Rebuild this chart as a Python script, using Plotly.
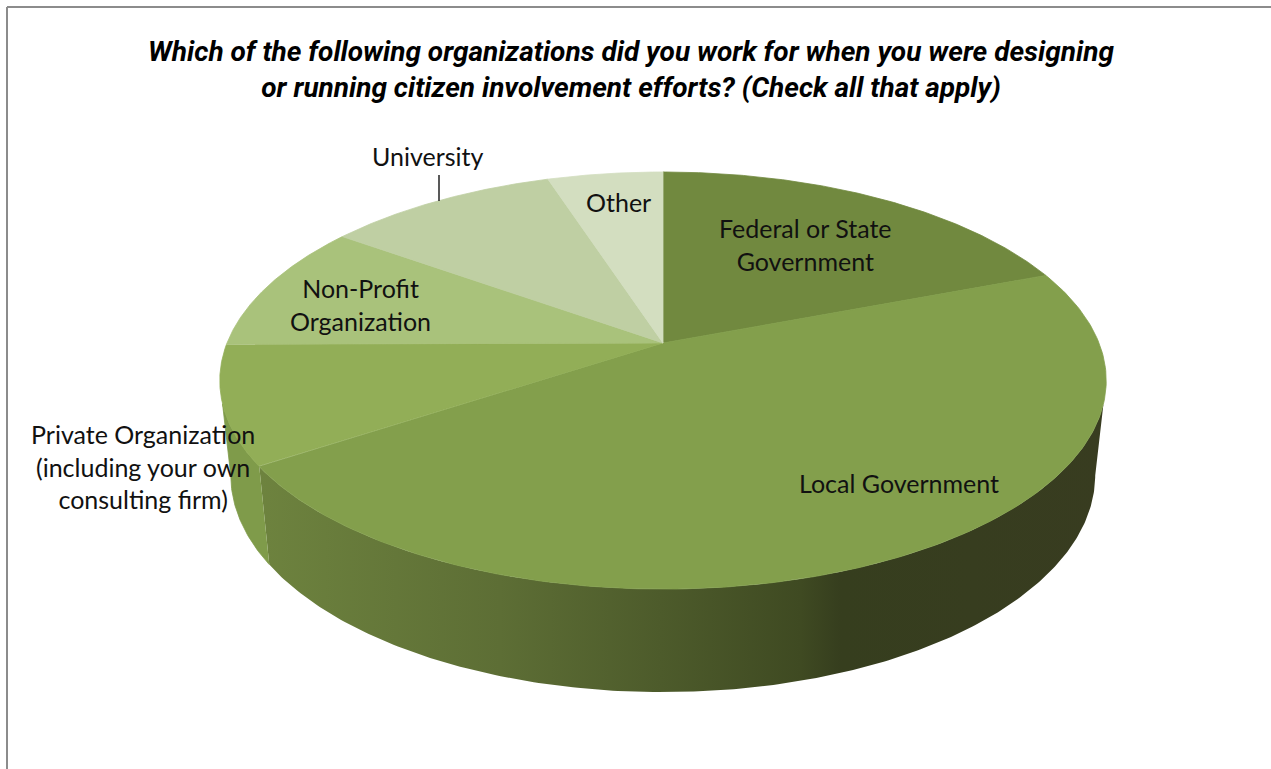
import numpy as np
import plotly.graph_objects as go

TITLE = ("Which of the following organizations did you work for when you were designing<br>"
         "or running citizen involvement efforts? (Check all that apply)")
categories = ["Federal or State Government", "Local Government",
              "Private Organization (including your own consulting firm)",
              "Non-Profit Organization", "University", "Other"]
values = [19.2, 46.5, 9.2, 10.0, 10.1, 5.0]
slice_colors = ["#71893f", "#839f4c", "#92ae57", "#a9c27b", "#bfcfa3", "#d3dec0"]
label_text = ["Federal or State<br>Government", "Local Government",
              "Private Organization<br>(including your own<br>consulting firm)",
              "Non-Profit<br>Organization", "University", "Other"]
label_x = [805, 899, 143, 360, 428, 618]
label_y = [244, 483, 466, 304, 156, 202]

# perspective of the pie's top face, in pixels of a 1271x769 plot
CX, CY, RX, RY, K = 663.0, 343.0, 436.0, 201.8, 0.18
E_CY, E_RX, E_RY = 380.5, 443.0, 208.5        # top rim seen as ellipse
B_CY, B_RX, B_RY = 475.0, 432.0, 217.0        # bottom rim ellipse


def rim(theta):
    d = 1 + K * np.cos(theta)
    return CX + RX * np.sin(theta) / d, CY - RY * np.cos(theta) / d


def bottom(x, y):
    return CX + (x - CX) / E_RX * B_RX, B_CY + (y - E_CY) / E_RY * B_RY


cum = np.concatenate([[0], np.cumsum(values)]) / sum(values) * 2 * np.pi
fig = go.Figure()


def wall(th, line, **kw):
    x, y = rim(th)
    bx, by = bottom(x, y)
    top_keep = y >= 402
    low_keep = y >= E_CY
    fig.add_trace(go.Scatter(x=np.r_[x[top_keep], bx[low_keep][::-1]],
                             y=np.r_[y[top_keep], by[low_keep][::-1]], mode="lines",
                             fill="toself", line=line, hoverinfo="skip",
                             showlegend=False, **kw))


# side walls: Local Government (gradient) and Private Organization
wall(np.linspace(cum[1], cum[2], 300), dict(width=0),
     fillgradient=dict(type="horizontal", start=222, stop=1104, colorscale=[
         [0.00, "#708640"], [0.315, "#5d6e35"], [0.497, "#4d5b2b"],
         [0.656, "#3f4a22"], [0.701, "#363e1e"], [1.00, "#383c20"]]))
wall(np.linspace(cum[2], cum[3], 60), dict(width=0.8, color="#7f9b4a"), fillcolor="#7f9b4a")

# top face slices
for i, name in enumerate(categories):
    th = np.linspace(cum[i], cum[i + 1], 200)
    x, y = rim(th)
    fig.add_trace(go.Scatter(x=np.r_[CX, x, CX], y=np.r_[CY, y, CY], mode="lines",
                             fill="toself", fillcolor=slice_colors[i],
                             line=dict(width=0.8, color=slice_colors[i]), name=name,
                             hoverinfo="name", showlegend=False))

for t, x, y in zip(label_text, label_x, label_y):
    fig.add_annotation(x=x, y=y, text=t, showarrow=False, xanchor="center", yanchor="middle",
                       font=dict(family="Lato", size=25, color="#111111"))

shapes = [
    dict(type="line", x0=439, x1=439, y0=175, y1=201, line=dict(color="#222222", width=1.5)),
    dict(type="line", x0=7, x1=7, y0=7, y1=769, line=dict(color="#8c8c8c", width=2)),
    dict(type="line", x0=7, x1=1271, y0=7, y1=7, line=dict(color="#8c8c8c", width=2)),
]

fig.update_layout(
    width=1271, height=769, margin=dict(l=0, r=0, t=0, b=0),
    paper_bgcolor="white", plot_bgcolor="white", showlegend=False, shapes=shapes,
    xaxis=dict(range=[0, 1271], visible=False, fixedrange=True),
    yaxis=dict(range=[769, 0], visible=False, fixedrange=True),
    title=dict(text=TITLE, x=631 / 1271, xanchor="center", xref="paper",
               y=1 - 61 / 769, yanchor="top", yref="paper",
               font=dict(family="Roboto", size=28, color="#000000",
                         weight="bold", style="italic")),
)
fig.write_html("out.html", config={"displayModeBar": False},
               post_script="document.body.style.margin='0';document.body.style.overflow='hidden';")
